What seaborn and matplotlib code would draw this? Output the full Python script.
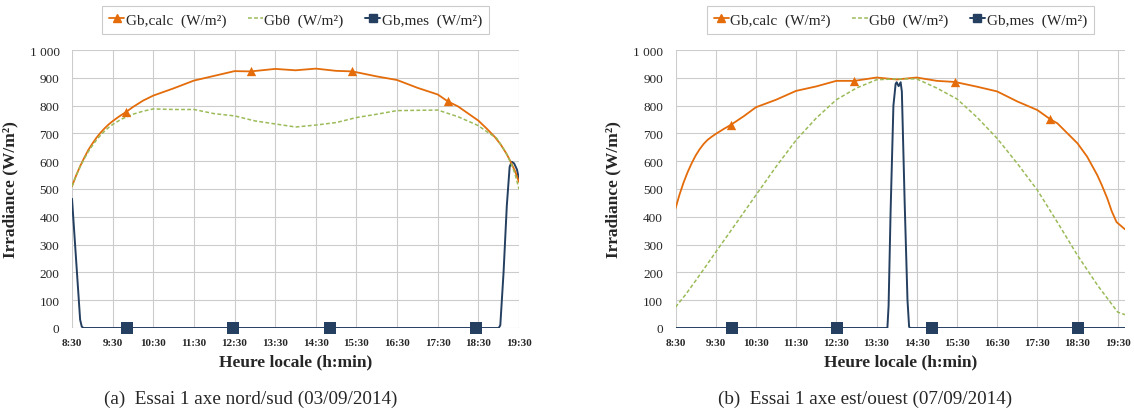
import matplotlib
matplotlib.use("Agg")
import matplotlib.pyplot as plt
from matplotlib.lines import Line2D
import seaborn as sns
import pandas as pd

# heures decimales (8.5 = 8:30)
x_ticks = [8.5, 9.5, 10.5, 11.5, 12.5, 13.5, 14.5, 15.5, 16.5, 17.5, 18.5, 19.5]
x_tick_labels = ['8:30', '9:30', '10:30', '11:30', '12:30', '13:30', '14:30',
                 '15:30', '16:30', '17:30', '18:30', '19:30']
y_ticks = [0, 100, 200, 300, 400, 500, 600, 700, 800, 900, 1000]
y_tick_labels = ['0', '100', '200', '300', '400', '500', '600', '700', '800', '900', '1 000']

series_names = ['Gb,calc  (W/m²)', 'Gbθ  (W/m²)', 'Gb,mes  (W/m²)']
captions = ['(a)  Essai 1 axe nord/sud (03/09/2014)', '(b)  Essai 1 axe est/ouest (07/09/2014)']

# (a) axe nord/sud
t_calc_a = [8.5, 8.6, 8.7, 8.8, 8.9, 9.0, 9.1, 9.2, 9.3, 9.4, 9.5, 9.65, 9.83, 10.0, 10.25,
            10.5, 11.0, 11.5, 12.0, 12.5, 12.9, 13.5, 14.0, 14.5, 15.0, 15.4, 16.0, 16.5,
            17.0, 17.5, 17.75, 18.0, 18.5, 18.7, 18.9, 19.05, 19.2, 19.3, 19.4, 19.5]
calc_a = [510, 548, 582, 612, 640, 663, 684, 702, 718, 732, 744, 760, 777, 795, 818,
          836, 862, 890, 907, 924, 923, 932, 927, 933, 925, 923, 905, 892,
          864, 840, 815, 797, 746, 718, 688, 660, 625, 596, 565, 525]
t_theta_a = [8.5, 8.6, 8.7, 8.8, 8.9, 9.0, 9.1, 9.2, 9.3, 9.4, 9.5, 9.7, 9.85, 10.0, 10.25,
             10.5, 11.0, 11.5, 12.0, 12.5, 13.0, 13.5, 14.0, 14.5, 15.0, 15.5, 16.0, 16.5,
             17.0, 17.5, 18.0, 18.5, 18.65, 18.8, 18.95, 19.05, 19.2, 19.3, 19.4, 19.5]
theta_a = [510, 547, 580, 608, 634, 656, 676, 693, 708, 721, 732, 750, 760, 769, 780,
           788, 786, 786, 771, 763, 745, 734, 723, 730, 739, 757, 769, 782,
           783, 784, 760, 728, 712, 697, 683, 660, 625, 594, 555, 500]
t_mes_a = [8.5, 8.70, 8.74, 8.78, 19.0, 19.04, 19.12, 19.2, 19.27, 19.32, 19.38, 19.45, 19.5]
mes_a = [465, 30, 5, 0, 0, 10, 200, 440, 580, 598, 592, 570, 535]
t_calc_mk_a = [9.83, 12.9, 15.4, 17.75]
calc_mk_a = [777, 923, 923, 815]
t_mes_mk_a = [9.85, 12.47, 14.84, 18.44]
mes_mk_a = [0, 0, 0, 0]

# (b) axe est/ouest
t_calc_b = [8.5, 8.6, 8.7, 8.8, 8.9, 9.0, 9.1, 9.2, 9.3, 9.4, 9.5, 9.7, 9.88, 10.2, 10.5,
            11.0, 11.5, 12.0, 12.5, 12.95, 13.5, 14.0, 14.5, 15.0, 15.45, 16.0, 16.5, 17.0,
            17.5, 17.82, 18.0, 18.5, 18.74, 18.99, 19.1, 19.24, 19.35, 19.47, 19.68]
calc_b = [430, 480, 523, 560, 592, 620, 643, 662, 677, 688, 698, 716, 731, 762, 794,
          821, 853, 869, 889, 889, 901, 894, 901, 889, 885, 868, 851, 815,
          784, 751, 736, 664, 616, 550, 515, 466, 420, 381, 355]
t_theta_b = [8.5, 8.75, 9.0, 9.25, 9.5, 10.0, 10.5, 11.0, 11.5, 12.0, 12.5, 13.0, 13.5,
             14.0, 14.5, 15.0, 15.5, 16.0, 16.5, 17.0, 17.5, 18.0, 18.5, 19.0, 19.5, 19.68]
theta_b = [75, 120, 170, 221, 273, 375, 478, 580, 676, 755, 821, 863, 893,
           896, 896, 863, 824, 758, 682, 592, 496, 380, 261, 153, 57, 48]
t_mes_b = [8.5, 13.77, 13.80, 13.85, 13.92, 13.975, 14.0, 14.05, 14.10, 14.13, 14.2, 14.27,
           14.31, 14.33, 19.68]
mes_b = [0, 0, 80, 420, 800, 878, 884, 870, 884, 850, 450, 100, 5, 0, 0]
t_calc_mk_b = [9.88, 12.95, 15.45, 17.82]
calc_mk_b = [731, 889, 885, 751]
t_mes_mk_b = [9.9, 12.52, 14.87, 18.5]
mes_mk_b = [0, 0, 0, 0]

ORANGE = '#E46C0A'
GREEN = '#9BBB59'
NAVY = '#243F60'

sns.set_style('white')
plt.rcParams['font.family'] = ['Liberation Serif', 'DejaVu Serif']

fig = plt.figure(figsize=(11.34, 4.14), dpi=100)
ax_a = fig.add_axes([72 / 1134, 85 / 414, 447 / 1134, 278 / 414])
ax_b = fig.add_axes([675.5 / 1134, 85 / 414, 449.5 / 1134, 278 / 414])

panels = [
    (ax_a, t_calc_a, calc_a, t_theta_a, theta_a, t_mes_a, mes_a,
     t_calc_mk_a, calc_mk_a, t_mes_mk_a, mes_mk_a, 19.5),
    (ax_b, t_calc_b, calc_b, t_theta_b, theta_b, t_mes_b, mes_b,
     t_calc_mk_b, calc_mk_b, t_mes_mk_b, mes_mk_b, 19.68),
]

for ax, tc, vc, tt, vt, tm, vm, tcm, vcm, tmm, vmm, xmax in panels:
    df_c = pd.DataFrame({'t': tc, 'v': vc})
    df_t = pd.DataFrame({'t': tt, 'v': vt})
    df_m = pd.DataFrame({'t': tm, 'v': vm})
    sns.lineplot(data=df_m, x='t', y='v', ax=ax, color=NAVY, lw=1.4, zorder=3)
    sns.lineplot(data=df_c, x='t', y='v', ax=ax, color=ORANGE, lw=1.3, zorder=4)
    sns.lineplot(data=df_t, x='t', y='v', ax=ax, color=GREEN, lw=1.1, zorder=5,
                 linestyle=(0, (2.5, 1.5)))
    ax.scatter(tcm, vcm, marker='^', s=45, color=ORANGE, zorder=6, linewidths=0)
    ax.scatter(tmm, vmm, marker='s', s=70, color=NAVY, zorder=6, linewidths=0,
               clip_on=False)

    ax.set_xlim(8.5, xmax)
    ax.set_ylim(0, 1000)
    ax.set_xticks(x_ticks)
    ax.set_xticklabels(x_tick_labels, fontsize=8, fontweight='bold')
    ax.set_yticks(y_ticks)
    ax.set_yticklabels(y_tick_labels, fontsize=9.5)
    ax.tick_params(axis='both', length=0)
    ax.tick_params(axis='x', pad=7)
    ax.tick_params(axis='y', pad=9)
    ax.grid(True, color='#CCCCCC', lw=0.8)
    for s in ax.spines.values():
        s.set_visible(False)
    ax.set_xlabel('Heure locale (h:min)', fontsize=12.5, fontweight='bold', labelpad=5)
    ax.set_ylabel('Irradiance (W/m²)', fontsize=12.5, fontweight='bold', labelpad=8)

    handles = [
        Line2D([], [], color=ORANGE, lw=1.3, marker='^', markersize=6),
        Line2D([], [], color=GREEN, lw=1.1, linestyle=(0, (2.5, 1.5))),
        Line2D([], [], color=NAVY, lw=1.4, marker='s', markersize=6),
    ]
    leg = ax.legend(handles, series_names, loc='center', ncol=3,
                    bbox_to_anchor=(0.5, 1 + 30 / 278), fontsize=11,
                    handlelength=1.0, handletextpad=0.1, columnspacing=1.4,
                    frameon=True, fancybox=False, borderpad=0.45)
    leg.get_frame().set_edgecolor('#BFBFBF')
    leg.get_frame().set_linewidth(0.8)

fig.text(251 / 1134, 15 / 414, captions[0], ha='center', va='center', fontsize=13.8)
fig.text(865 / 1134, 15 / 414, captions[1], ha='center', va='center', fontsize=13.8)

fig.savefig('out.png', dpi=100)
